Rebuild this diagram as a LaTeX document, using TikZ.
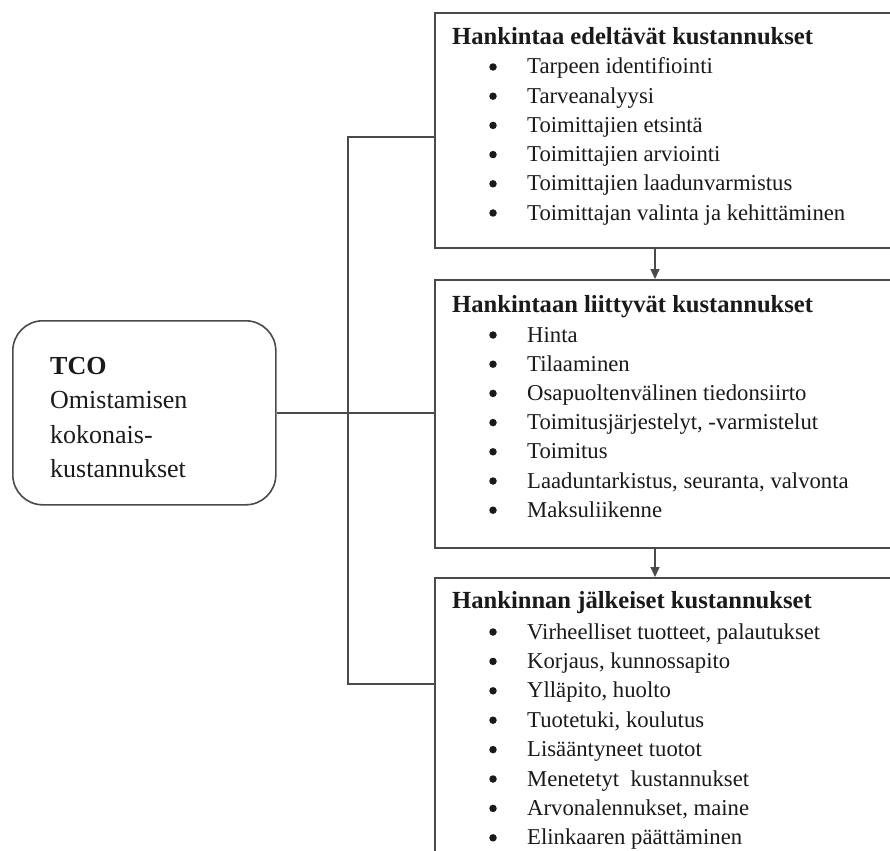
\documentclass[tikz,border=0pt]{standalone}
\usepackage{fontspec}
\setmainfont{Liberation Serif}
\usetikzlibrary{arrows.meta}
\definecolor{ln}{HTML}{4A4A4A}
\definecolor{tx}{HTML}{1A1A1A}
\tikzset{
  box/.style={draw=ln, line width=1.7pt, rectangle, anchor=north west, inner sep=0pt},
  tcobox/.style={draw=ln, line width=1.6pt, rounded corners=30pt, rectangle, anchor=north west, inner sep=0pt, minimum width=263pt, minimum height=184pt},
  conn/.style={draw=ln, line width=1.6pt},
  arr/.style={draw=ln, line width=1.3pt, -{Triangle[length=10pt,width=9pt]}},
  head/.style={anchor=base west, inner sep=0pt, text=tx, font=\fontsize{24.6}{28}\selectfont\bfseries},
  itm/.style={anchor=base west, inner sep=0pt, text=tx, font=\fontsize{22.7}{28}\selectfont},
  bul/.style={circle, fill=tx, inner sep=0pt, minimum size=7.5pt},
  tcotxt/.style={anchor=base west, inner sep=0pt, text=tx, font=\fontsize{26}{30}\selectfont},
}
\begin{document}
\begin{tikzpicture}[x=1pt,y=-1pt]
\useasboundingbox (0,0) rectangle (890,850);
\clip (0,0) rectangle (890,850);
\fill[white] (0,0) rectangle (890,850);
% boxes
\node[box, minimum width=470pt, minimum height=235pt] (top) at (434,12) {};
\node[box, minimum width=470pt, minimum height=268pt] (mid) at (434,279) {};
\node[box, minimum width=470pt, minimum height=300pt] (bot) at (434,577) {};
\node[tcobox] (tco) at (12,320) {};
% connectors
\coordinate (bus) at (348,0);
\coordinate (ax) at (655,0);
\coordinate (tj) at (434,137);
\coordinate (bj) at (434,684);
\draw[conn] (tj) -- (bus |- tj) -- (bus |- bj) -- (bj);
\draw[conn] (tco.east) -- (tco.east -| mid.west);
\draw[arr] (ax |- top.south) -- (ax |- mid.north);
\draw[arr] (ax |- mid.south) -- (ax |- bot.north);
% TCO text
\node[tcotxt, font=\fontsize{26}{30}\selectfont\bfseries] (t0) at (50,374) {TCO};
\node[tcotxt] (t1) at (50,408) {Omistamisen};
\node[tcotxt] (t2) at (50,443) {kokonais-};
\node[tcotxt] (t3) at (50,477) {kustannukset};
% top box
\node[head] (h1) at (452,45) {Hankintaa edeltävät kustannukset};
\foreach \t [count=\i] in {Tarpeen identifiointi, Tarveanalyysi, Toimittajien etsintä, Toimittajien arviointi, Toimittajien laadunvarmistus, Toimittajan valinta ja kehittäminen}{
  \node[itm] (a\i) at (527,{74+29.2*(\i-1)}) {\t};
  \node[bul] (ab\i) at (493,{67+29.2*(\i-1)}) {};
}
% middle box
\node[head] (h2) at (452,312) {Hankintaan liittyvät kustannukset};
\foreach \t [count=\i] in {Hinta, Tilaaminen, Osapuoltenvälinen tiedonsiirto, {Toimitusjärjestelyt, -varmistelut}, Toimitus, {Laaduntarkistus, seuranta, valvonta}, Maksuliikenne}{
  \node[itm] (b\i) at (527,{342+29.2*(\i-1)}) {\t};
  \node[bul] (bb\i) at (493,{335+29.2*(\i-1)}) {};
}
% bottom box
\node[head] (h3) at (452,608) {Hankinnan jälkeiset kustannukset};
\foreach \t [count=\i] in {{Virheelliset tuotteet, palautukset}, {Korjaus, kunnossapito}, {Ylläpito, huolto}, {Tuotetuki, koulutus}, Lisääntyneet tuotot, Menetetyt\ \ kustannukset, {Arvonalennukset, maine}, Elinkaaren päättäminen}{
  \node[itm] (c\i) at (527,{639+29.4*(\i-1)}) {\t};
  \node[bul] (cb\i) at (493,{632+29.4*(\i-1)}) {};
}
\end{tikzpicture}
\end{document}
